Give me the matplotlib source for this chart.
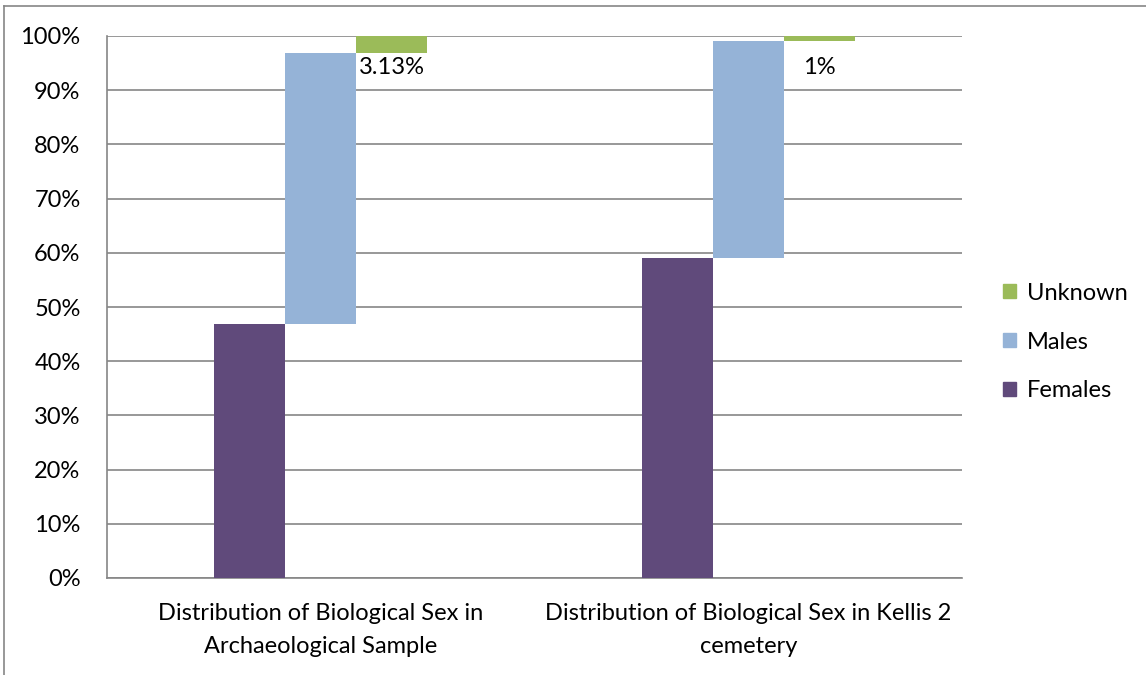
import matplotlib
matplotlib.use("Agg")
import matplotlib.pyplot as plt
from matplotlib.lines import Line2D
from matplotlib.patches import Patch
from matplotlib.ticker import PercentFormatter

categories = ["Distribution of Biological Sex in\nArchaeological Sample",
              "Distribution of Biological Sex in Kellis 2\ncemetery"]
females = [46.87, 59.0]
males = [50.0, 40.0]
unknown = [3.13, 1.0]
unknown_labels = ["3.13%", "1%"]

plt.rcParams['font.family'] = ['Lato', 'DejaVu Sans']

fig = plt.figure(figsize=(11.46, 6.75), dpi=100)
ax = fig.add_axes([107/1146, 1-578/675, (962-107)/1146, (578-36)/675])

c_f, c_m, c_u = "#604A7B", "#95B3D7", "#9BBB59"
w = 0.166
x = list(range(len(categories)))
FS = 17

ax.bar([i - w for i in x], females, width=w, color=c_f, zorder=3)
m_bottom = females
ax.bar(x, males, bottom=m_bottom, width=w, color=c_m, zorder=3)
u_bottom = [f + m for f, m in zip(females, males)]
ax.bar([i + w for i in x], unknown, bottom=u_bottom, width=w, color=c_u, zorder=3)

label_y = min(u_bottom) - 0.7
for i, lab in enumerate(unknown_labels):
    ax.text(i + w, label_y, lab, ha='center', va='top', fontsize=FS, color='black', zorder=4)

ax.set_xlim(-0.5, 1.5)
ax.set_ylim(0, 100)
ax.set_yticks(range(0, 101, 10))
ax.yaxis.set_major_formatter(PercentFormatter(decimals=0))
ax.set_xticks(x)
ax.set_xticklabels(categories, fontsize=FS, linespacing=1.7)
ax.tick_params(axis='both', length=0, labelsize=FS)
ax.tick_params(axis='x', pad=18)
ax.tick_params(axis='y', pad=19)
ax.grid(axis='y', color='#868686', linewidth=1.2, zorder=0)
for s in ['top', 'right']:
    ax.spines[s].set_visible(False)
for s in ['left', 'bottom']:
    ax.spines[s].set_color('#868686')
    ax.spines[s].set_linewidth(1.2)

handles = [Patch(color=c_u, label='Unknown'), Patch(color=c_m, label='Males'),
           Patch(color=c_f, label='Females')]
fig.legend(handles=handles, loc='center left', bbox_to_anchor=(994/1146, 1-342/675),
           frameon=False, fontsize=FS, handlelength=0.55, handleheight=0.55,
           labelspacing=1.18, handletextpad=0.45, borderaxespad=0)

fig.add_artist(Line2D([4/1146, 4/1146], [0, 1-6/675], color='#868686', lw=1.2))
fig.add_artist(Line2D([4/1146, 1], [1-6/675, 1-6/675], color='#868686', lw=1.2))

fig.savefig("out.png", dpi=100)
